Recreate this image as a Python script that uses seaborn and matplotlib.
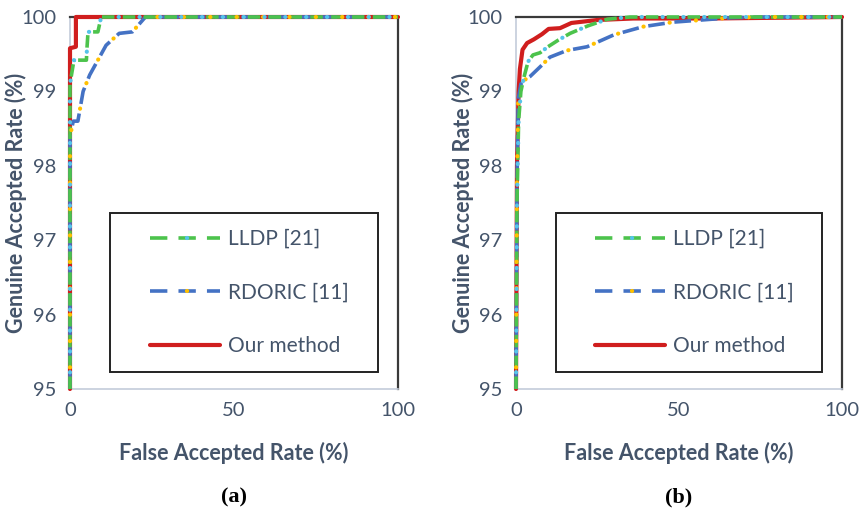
import matplotlib
matplotlib.use("Agg")
import matplotlib.pyplot as plt
import seaborn as sns
from matplotlib.lines import Line2D
from matplotlib.patches import Rectangle
from matplotlib.legend_handler import HandlerTuple

# ---- data ----
a_our_x = [0, 0, 1.8, 1.8, 100]
a_our_y = [95, 99.58, 99.6, 100, 100]
a_lldp_x = [0, 0, 1.2, 5.0, 5.2, 5.5, 8.5, 9.5, 100]
a_lldp_y = [95, 99.1, 99.42, 99.42, 99.6, 99.8, 99.8, 100, 100]
a_rdoric_x = [0, 0, 1, 2.4, 4, 6, 8.5, 11, 15, 19, 21, 23, 100]
a_rdoric_y = [95, 98.4, 98.6, 98.6, 99.0, 99.22, 99.42, 99.62, 99.78, 99.8, 99.9, 100, 100]

b_our_x = [0, 0.3, 0.8, 1.2, 2, 3.4, 5.5, 8, 10, 13.5, 17, 25, 36, 60, 100]
b_our_y = [95, 98.0, 99.0, 99.3, 99.56, 99.65, 99.7, 99.77, 99.84, 99.85, 99.92, 99.96, 99.98, 99.98, 100]
b_lldp_x = [0, 0.3, 0.8, 1.5, 2.5, 3.7, 5.2, 7.4, 9.8, 13, 16.6, 22, 28, 35, 100]
b_lldp_y = [95, 97.5, 98.6, 99.0, 99.2, 99.4, 99.49, 99.52, 99.6, 99.69, 99.78, 99.88, 99.97, 100, 100]
b_rdoric_x = [0, 0.3, 0.7, 1.5, 2.5, 4.3, 7.4, 10.4, 15.6, 21.8, 30, 39, 48, 57, 66, 75, 100]
b_rdoric_y = [95, 97.8, 98.9, 99.1, 99.15, 99.2, 99.33, 99.46, 99.55, 99.6, 99.76, 99.87, 99.93, 99.96, 99.99, 100, 100]

labels = ["LLDP [21]", "RDORIC [11]", "Our method"]
x_ticks = [0, 50, 100]
y_ticks = [95, 96, 97, 98, 99, 100]
panel_captions = ["(a)", "(b)"]

# ---- style ----
sns.set_theme(style="white")
plt.rcParams["font.family"] = ["Lato", "DejaVu Sans"]

TXT = "#44546A"
GREEN = "#4CC34C"
CYAN = "#55C4EA"
BLUE = "#4472C4"
ORANGE = "#FFC000"
RED = "#D01E1E"

DLW = 2.6   # dash linewidth
PLW = 3.0   # dot linewidth

fig = plt.figure(figsize=(8.67, 5.12), dpi=100)
ax_a = fig.add_axes([70/867, 1-389/512, 328/867, 372/512])
ax_b = fig.add_axes([516/867, 1-389/512, 326/867, 372/512])


def pair_styles(on_pt, off_pt):
    period = on_pt + off_pt
    dash = (0, (on_pt / DLW, off_pt / DLW))
    dot_center = on_pt + off_pt / 2.0
    dot = ((period - dot_center) / PLW, (0.05, period / PLW - 0.05))
    return dash, dot


def draw_pair(ax, x, y, c1, c2, on_pt, off_pt):
    dash, dot = pair_styles(on_pt, off_pt)
    sns.lineplot(x=x, y=y, ax=ax, sort=False, estimator=None, color=c1,
                 linewidth=DLW, linestyle=dash, dash_capstyle="butt",
                 clip_on=False, zorder=4)
    sns.lineplot(x=x, y=y, ax=ax, sort=False, estimator=None, color=c2,
                 linewidth=PLW, linestyle=dot, dash_capstyle="round",
                 clip_on=False, zorder=4.5)


for ax, (lx, ly, rx, ry, ox, oy), cap in zip(
        [ax_a, ax_b],
        [(a_lldp_x, a_lldp_y, a_rdoric_x, a_rdoric_y, a_our_x, a_our_y),
         (b_lldp_x, b_lldp_y, b_rdoric_x, b_rdoric_y, b_our_x, b_our_y)],
        panel_captions):
    sns.lineplot(x=ox, y=oy, ax=ax, sort=False, estimator=None, color=RED,
                 linewidth=3.0, clip_on=False, zorder=3)
    draw_pair(ax, rx, ry, BLUE, ORANGE, 12.0, 7.0)
    draw_pair(ax, lx, ly, GREEN, CYAN, 9.0, 6.0)
    ax.set_xlim(0, 100)
    ax.set_ylim(95, 100)
    ax.set_xticks(x_ticks)
    ax.set_yticks(y_ticks)
    ax.tick_params(axis="both", length=0, labelsize=14.5, colors=TXT)
    ax.tick_params(axis="x", pad=9)
    ax.tick_params(axis="y", pad=10)
    ax.set_xlabel("False Accepted Rate (%)", fontsize=15.5, fontweight="bold",
                  color=TXT, labelpad=17)
    ax.set_ylabel("Genuine Accepted Rate (%)", fontsize=15.5, fontweight="bold",
                  color=TXT)
    ax.yaxis.set_label_coords(-0.13, 0.5)
    for s in ["left", "bottom"]:
        ax.spines[s].set_color("#C3CCDA")
        ax.spines[s].set_linewidth(1.2)
    for s in ["top", "right"]:
        ax.spines[s].set_color("#3A3A3A")
        ax.spines[s].set_linewidth(1.6)
    ax.set_facecolor("white")

    # legend frame
    ax.add_patch(Rectangle((40/328, 17/372), 268/328, 159/372, transform=ax.transAxes,
                           fill=True, facecolor="white", edgecolor="#222222",
                           linewidth=1.4, zorder=6))
    leg_dash = (0, (12.5 / DLW, 8.0 / DLW))
    leg_dot = (30.05 - 26.6 / PLW, (0.05, 30))
    h1 = (Line2D([], [], color=GREEN, lw=DLW, linestyle=leg_dash),
          Line2D([], [], color=CYAN, lw=PLW, linestyle=leg_dot, dash_capstyle="round"))
    h2 = (Line2D([], [], color=BLUE, lw=DLW, linestyle=leg_dash),
          Line2D([], [], color=ORANGE, lw=PLW, linestyle=leg_dot, dash_capstyle="round"))
    h3 = Line2D([], [], color=RED, lw=3.0)
    leg = ax.legend([h1, h2, h3], labels, loc="center",
                    bbox_to_anchor=(0.546, 0.259), bbox_transform=ax.transAxes,
                    frameon=False, fontsize=15, handlelength=3.36, handletextpad=0.38,
                    labelspacing=1.62,
                    handler_map={tuple: HandlerTuple(ndivide=1)})
    leg.set_zorder(7)
    for t in leg.get_texts():
        t.set_color(TXT)

    ax.text(0.5, 1 - (497 - 17) / 372, cap, transform=ax.transAxes, ha="center",
            va="center", fontsize=16, fontweight="bold",
            family=["Liberation Serif", "DejaVu Serif"], color="black")

fig.savefig("out.png", dpi=100)
